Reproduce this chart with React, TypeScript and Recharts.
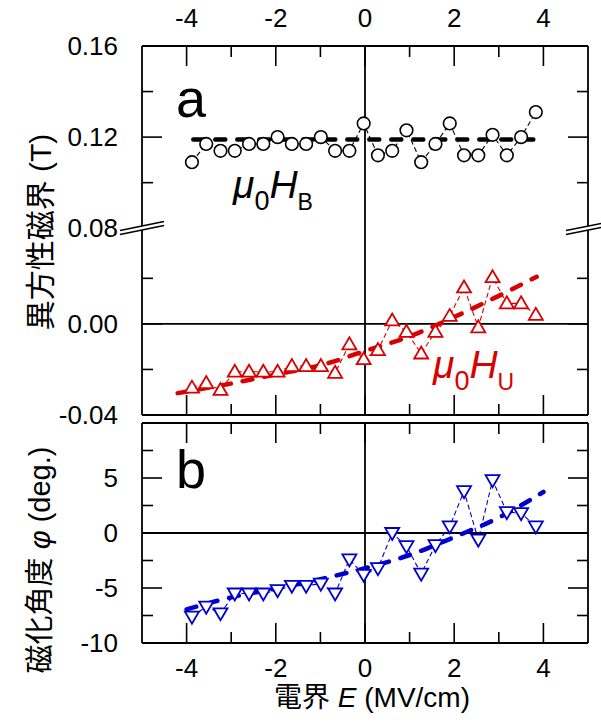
import { ComposedChart, Line, XAxis, YAxis, ReferenceLine } from "recharts";

// electric field E (MV/cm), shared by all three series
const fieldE = [
  -3.88, -3.56, -3.24, -2.92, -2.6, -2.28, -1.96, -1.64, -1.32, -0.99, -0.67, -0.35, -0.03,
  0.29, 0.61, 0.93, 1.26, 1.58, 1.9, 2.22, 2.54, 2.86, 3.18, 3.5, 3.83,
];
// μ0HB (T)
const hB = [
  0.109, 0.117, 0.114, 0.114, 0.117, 0.117, 0.12, 0.117, 0.117, 0.12, 0.114, 0.114, 0.126,
  0.112, 0.114, 0.123, 0.109, 0.117, 0.126, 0.112, 0.112, 0.121, 0.112, 0.12, 0.131,
];
// μ0HU (T)
const hU = [
  -0.028, -0.026, -0.029, -0.021, -0.021, -0.021, -0.021, -0.0185, -0.0185, -0.0185, -0.0215,
  -0.009, -0.0155, -0.0115, 0.0015, -0.0035, -0.013, -0.0035, 0.0035, 0.016, -0.0015, 0.0205,
  0.009, 0.009, 0.004,
];
// magnetization angle φ (deg.)
const phi = [
  -7.6, -6.7, -7.3, -5.5, -5.5, -5.5, -5.2, -4.8, -4.8, -4.6, -5.5, -2.4, -3.8, -3.2, 0.0,
  -1.2, -3.7, -1.1, 0.6, 3.8, -0.6, 4.8, 1.9, 1.8, 0.6,
];

// fit curves
const hBFitE = [-3.85, 3.8];
const hBFit = [0.119, 0.119];
const hUFitE = [-4.2, -3, -2, -1, 0, 1, 2, 3, 3.85];
const hUFit = [-0.0304, -0.0262, -0.0222, -0.0182, -0.0119, -0.0055, 0.003, 0.0123, 0.0207];
const phiFitE = [-4, -3, -2, -1, 0, 1, 2, 3, 4];
const phiFit = [-6.95, -5.85, -5.05, -4.2, -3.2, -2.0, -0.38, 1.4, 3.73];

// axis ticks
const xMajor = [-4, -2, 0, 2, 4];
const xMinor = [-3, -1, 1, 3];
const hLowerTicks = [-0.04, -0.02, 0, 0.02];
const hUpperTicks = [0.08, 0.1, 0.12, 0.14, 0.16];
const phiTicks = [-10, -7.5, -5, -2.5, 0, 2.5, 5, 7.5];

// broken axis: upper segment is shifted down by this amount
const BREAK = 0.038;

const RED = "#d80000";
const BLUE = "#0000cc";
const FONT = "'Liberation Sans', Arial, 'Noto Sans CJK JP', sans-serif";
const AXIS = { stroke: "#000", strokeWidth: 1.8 };

const xs = [...xMinor, ...xMajor].sort((a, b) => a - b);
const hbData = fieldE.map((e, i) => ({ e, v: hB[i] - BREAK }));
const huData = fieldE.map((e, i) => ({ e, v: hU[i] }));
const phiData = fieldE.map((e, i) => ({ e, v: phi[i] }));
const hbFitData = hBFitE.map((e, i) => ({ e, v: hBFit[i] - BREAK }));
const huFitData = hUFitE.map((e, i) => ({ e, v: hUFit[i] }));
const phiFitData = phiFitE.map((e, i) => ({ e, v: phiFit[i] }));
const hTicks = [...hLowerTicks, ...hUpperTicks.map((t) => t - BREAK)];

const near = (arr: number[], v: number) => arr.some((a) => Math.abs(a - v) < 1e-6);

type Side = "left" | "right" | "top" | "bottom";

function makeTick(
  side: Side,
  major: number[],
  minor: number[],
  label?: (v: number) => string | null
) {
  return (props: any) => {
    const { x, y, payload } = props;
    const v = payload.value;
    const len = near(major, v) ? 20 : near(minor, v) ? 11 : 0;
    let ln = null;
    if (len) {
      if (side === "left") ln = <line x1={x} x2={x + len} y1={y} y2={y} />;
      if (side === "right") ln = <line x1={x} x2={x - len} y1={y} y2={y} />;
      if (side === "top") ln = <line x1={x} x2={x} y1={y} y2={y + len} />;
      if (side === "bottom") ln = <line x1={x} x2={x} y1={y} y2={y - len} />;
    }
    const txt = label ? label(v) : null;
    return (
      <g stroke="#000" strokeWidth={1.6}>
        {ln}
        {txt != null && (
          <text
            x={side === "left" ? x - 24 : x}
            y={side === "top" ? y - 28 : side === "bottom" ? y + 25 : y}
            textAnchor={side === "left" ? "end" : "middle"}
            dominantBaseline="central"
            fontSize={26}
            fontFamily={FONT}
            fill="#000"
            stroke="none"
          >
            {txt}
          </text>
        )}
      </g>
    );
  };
}

const xLabel = (v: number) => (near(xMajor, v) ? String(v) : null);
const hLabel = (v: number) => {
  if (near([-0.04, 0], v)) return v.toFixed(2);
  if (near(hUpperTicks.filter((t, i) => i % 2 === 0).map((t) => t - BREAK), v))
    return (v + BREAK).toFixed(2);
  return null;
};
const hMajor = [0, 0.12 - BREAK];
const hMinor = [-0.02, 0.02, 0.1 - BREAK, 0.14 - BREAK];
const phiLabel = (v: number) => (near([-10, -5, 0, 5], v) ? String(v) : null);

function circleDot(props: any) {
  const { cx, cy, index } = props;
  return <circle key={index} cx={cx} cy={cy} r={6.3} fill="#fff" stroke="#000" strokeWidth={1.6} />;
}
function upDot(props: any) {
  const { cx, cy, index } = props;
  const pts = `${cx - 7},${cy + 5} ${cx + 7},${cy + 5} ${cx},${cy - 7}`;
  return <polygon key={index} points={pts} fill="#fff" stroke={RED} strokeWidth={1.8} />;
}
function downDot(props: any) {
  const { cx, cy, index } = props;
  const pts = `${cx - 7},${cy - 5} ${cx + 7},${cy - 5} ${cx},${cy + 7}`;
  return <polygon key={index} points={pts} fill="#fff" stroke={BLUE} strokeWidth={1.8} />;
}

function xAxes(topH: number, bottomH: number, topLabels: boolean, bottomLabels: boolean) {
  return [
    <XAxis
      key="xb"
      xAxisId="b"
      orientation="bottom"
      type="number"
      dataKey="e"
      domain={[-5, 5]}
      ticks={xs}
      interval={0}
      height={bottomH}
      tickSize={0}
      tickMargin={0}
      tickLine={false}
      axisLine={AXIS}
      allowDataOverflow
      tick={makeTick("bottom", xMajor, xMinor, bottomLabels ? xLabel : undefined)}
    />,
    <XAxis
      key="xt"
      xAxisId="t"
      orientation="top"
      type="number"
      dataKey="e"
      domain={[-5, 5]}
      ticks={xs}
      interval={0}
      height={topH}
      tickSize={0}
      tickMargin={0}
      tickLine={false}
      axisLine={AXIS}
      allowDataOverflow
      tick={makeTick("top", xMajor, xMinor, topLabels ? xLabel : undefined)}
    />,
  ];
}

const dataLine = { strokeWidth: 1.1, strokeDasharray: "5 3" };
const fitLine = { strokeWidth: 4.5, strokeDasharray: "10 12", strokeLinecap: "round" as const };

export default function App() {
  return (
    <div style={{ position: "absolute", left: 0, top: 0, width: 601, height: 725, background: "#fff" }}>
      <div style={{ position: "absolute", left: 0, top: 0 }}>
        <ComposedChart width={601} height={440} margin={{ top: 16, right: 0, bottom: 0, left: 0 }}>
          {xAxes(30, 25, true, false)}
          <YAxis
            yAxisId="l"
            orientation="left"
            type="number"
            domain={[-0.04, 0.16 - BREAK]}
            ticks={hTicks}
            interval={0}
            width={142}
            tickSize={0}
            tickMargin={0}
            tickLine={false}
            axisLine={AXIS}
            allowDataOverflow
            tick={makeTick("left", hMajor, hMinor, hLabel)}
          />
          <YAxis
            yAxisId="r"
            orientation="right"
            type="number"
            domain={[-0.04, 0.16 - BREAK]}
            ticks={hTicks}
            interval={0}
            width={13}
            tickSize={0}
            tickMargin={0}
            tickLine={false}
            axisLine={AXIS}
            allowDataOverflow
            tick={makeTick("right", hMajor, hMinor)}
          />
          <ReferenceLine xAxisId="b" yAxisId="l" y={0} stroke="#000" strokeWidth={1.8} />
          <ReferenceLine xAxisId="b" yAxisId="l" x={0} stroke="#000" strokeWidth={1.8} />
          <Line
            xAxisId="b"
            yAxisId="l"
            data={hbData}
            dataKey="v"
            stroke="#000"
            {...dataLine}
            dot={circleDot}
            isAnimationActive={false}
          />
          <Line
            xAxisId="b"
            yAxisId="l"
            data={huData}
            dataKey="v"
            stroke={RED}
            {...dataLine}
            dot={upDot}
            isAnimationActive={false}
          />
          <Line
            xAxisId="b"
            yAxisId="l"
            data={hbFitData}
            dataKey="v"
            stroke="#000"
            {...fitLine}
            dot={false}
            isAnimationActive={false}
          />
          <Line
            xAxisId="b"
            yAxisId="l"
            type="monotone"
            data={huFitData}
            dataKey="v"
            stroke={RED}
            {...fitLine}
            dot={false}
            isAnimationActive={false}
          />
        </ComposedChart>
      </div>
      <div style={{ position: "absolute", left: 0, top: 420 }}>
        <ComposedChart width={601} height={305} margin={{ top: 0, right: 0, bottom: 0, left: 0 }}>
          {xAxes(3, 82, false, true)}
          <YAxis
            yAxisId="l"
            orientation="left"
            type="number"
            domain={[-10, 10]}
            ticks={phiTicks}
            interval={0}
            width={142}
            tickSize={0}
            tickMargin={0}
            tickLine={false}
            axisLine={AXIS}
            allowDataOverflow
            tick={makeTick("left", [-5, 0, 5], [-7.5, -2.5, 2.5, 7.5], phiLabel)}
          />
          <YAxis
            yAxisId="r"
            orientation="right"
            type="number"
            domain={[-10, 10]}
            ticks={phiTicks}
            interval={0}
            width={13}
            tickSize={0}
            tickMargin={0}
            tickLine={false}
            axisLine={AXIS}
            allowDataOverflow
            tick={makeTick("right", [-5, 0, 5], [-7.5, -2.5, 2.5, 7.5])}
          />
          <ReferenceLine xAxisId="b" yAxisId="l" y={0} stroke="#000" strokeWidth={1.8} />
          <ReferenceLine xAxisId="b" yAxisId="l" x={0} stroke="#000" strokeWidth={1.8} />
          <Line
            xAxisId="b"
            yAxisId="l"
            data={phiData}
            dataKey="v"
            stroke={BLUE}
            {...dataLine}
            dot={downDot}
            isAnimationActive={false}
          />
          <Line
            xAxisId="b"
            yAxisId="l"
            type="monotone"
            data={phiFitData}
            dataKey="v"
            stroke={BLUE}
            {...fitLine}
            dot={false}
            isAnimationActive={false}
          />
        </ComposedChart>
      </div>
      <svg
        width={601}
        height={725}
        style={{ position: "absolute", left: 0, top: 0, pointerEvents: "none" }}
        fontFamily={FONT}
      >
        {/* axis break marks */}
        {[142, 588].map((ax) => (
          <g key={ax}>
            <polygon
              points={`${ax - 22},${230.4} ${ax + 22},${221.6} ${ax + 22},${225.6} ${ax - 22},${234.4}`}
              fill="#fff"
            />
            <line x1={ax - 22} y1={230.4} x2={ax + 22} y2={221.6} stroke="#000" strokeWidth={1.5} />
            <line x1={ax - 22} y1={234.4} x2={ax + 22} y2={225.6} stroke="#000" strokeWidth={1.5} />
          </g>
        ))}
        <text x={176} y={117} fontSize={54}>a</text>
        <text x={176} y={488} fontSize={54}>b</text>
        <text x={233} y={198} fontSize={39}>
          <tspan fontStyle="italic">μ</tspan>
          <tspan fontSize={27} dy={12}>0</tspan>
          <tspan fontStyle="italic" dy={-12}>H</tspan>
          <tspan fontSize={23} dy={12}>B</tspan>
        </text>
        <text x={433} y={378} fontSize={39} fill={RED}>
          <tspan fontStyle="italic">μ</tspan>
          <tspan fontSize={27} dy={12}>0</tspan>
          <tspan fontStyle="italic" dy={-12}>H</tspan>
          <tspan fontSize={23} dy={12}>U</tspan>
        </text>
        <text
          transform="translate(40,232) rotate(-90)"
          textAnchor="middle"
          dominantBaseline="central"
          fontSize={30}
        >
          異方性磁界 (T)
        </text>
        <text
          transform="translate(40,560) rotate(-90)"
          textAnchor="middle"
          dominantBaseline="central"
          fontSize={29}
        >
          磁化角度 <tspan fontStyle="italic">φ</tspan> (deg.)
        </text>
        <text x={372} y={697} textAnchor="middle" dominantBaseline="central" fontSize={28}>
          電界 <tspan fontStyle="italic">E</tspan> (MV/cm)
        </text>
      </svg>
    </div>
  );
}
